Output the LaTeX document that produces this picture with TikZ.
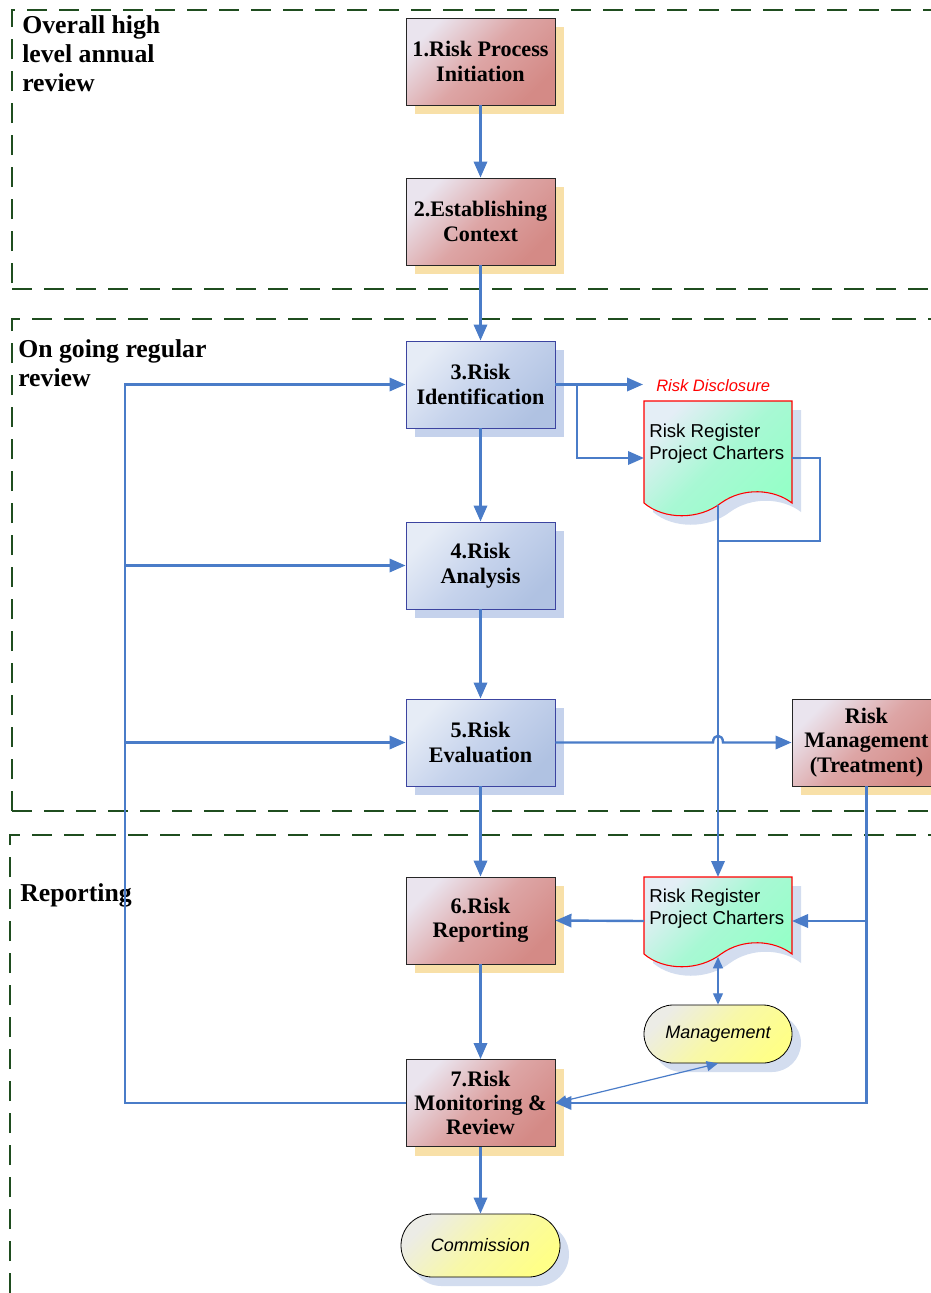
\documentclass[tikz,border=0pt]{standalone}
\usepackage{fontspec}
\newfontfamily\arial{Liberation Sans}
\newfontfamily\boxserif{Liberation Serif}
\usetikzlibrary{arrows.meta,shadows,calc}
\definecolor{lineblue}{HTML}{4A7CC8}
\definecolor{lanegreen}{HTML}{1F4D1F}
\definecolor{redlight}{HTML}{EAE4EE}
\definecolor{redmid}{HTML}{DDA5A5}
\definecolor{reddark}{HTML}{D48A86}
\definecolor{peach}{HTML}{F8E0A8}
\definecolor{bluelight}{HTML}{E6ECF6}
\definecolor{bluemid}{HTML}{C6D3EC}
\definecolor{bluedark}{HTML}{B0C2E2}
\definecolor{blueshadow}{HTML}{C5D2EC}
\definecolor{bluebord}{HTML}{3C44A0}
\definecolor{greenfill}{HTML}{96FFC8}
\definecolor{greenmid}{HTML}{A8F8D4}
\definecolor{greenlight}{HTML}{E4EEF6}
\definecolor{yellowfill}{HTML}{FFFF88}
\definecolor{yellowmid}{HTML}{F8F8A8}
\definecolor{yellowlight}{HTML}{ECECE6}
\definecolor{greyshadow}{HTML}{D3DDEF}
\newcommand\docpath[3]{(#1,#2) -- ({#1+148},#2) -- ({#1+148},#3) .. controls ({#1+130},{#3-14}) and ({#1+99},{#3-16}) .. ({#1+77},#3) .. controls ({#1+55},{#3+17}) and ({#1+20},{#3+17}) .. (#1,#3) -- cycle}
\tikzset{
  boxbase/.style={rectangle, minimum width=111.75pt, minimum height=65.25pt, inner sep=1pt, align=center,
    font=\boxserif\bfseries\fontsize{16.6}{18.3}\selectfont},
  redbox/.style={boxbase, draw=black!85, line width=0.7pt, top color=redlight, bottom color=reddark, middle color=redmid, shading angle=45,
    general shadow={fill=peach, shadow xshift=6.75pt, shadow yshift=-6.75pt}},
  bluebox/.style={boxbase, draw=bluebord, line width=0.7pt, top color=bluelight, bottom color=bluedark, middle color=bluemid, shading angle=45,
    general shadow={fill=blueshadow, shadow xshift=6.75pt, shadow yshift=-6.75pt}},
  term/.style={rectangle, draw=black, line width=0.6pt, top color=yellowlight, bottom color=yellowfill, middle color=yellowmid, shading angle=45,
    general shadow={fill=greyshadow, shadow xshift=6.75pt, shadow yshift=-6.75pt},
    font=\arial\itshape\fontsize{13.5}{16}\selectfont},
  docarea/.style={rectangle, draw=none, inner sep=0pt, outer sep=0pt, minimum width=111pt},
  docfill/.style={draw=red, line width=0.8pt, top color=greenlight, bottom color=greenfill, middle color=greenmid, shading angle=45},
  doctext/.style={anchor=west, align=left, inner sep=0pt, font=\arial\fontsize{14}{16.5}\selectfont},
  lanelabel/.style={anchor=north west, align=left, inner sep=0pt, font=\boxserif\bfseries\fontsize{19.3}{21.8}\selectfont},
  lane/.style={draw=lanegreen, line width=0.8pt, dash pattern=on 15pt off 9pt},
  line/.style={draw=lineblue, line width=1.8pt},
  arr/.style={line, -{Triangle[length=12pt,width=10pt]}},
  thinarr/.style={draw=lineblue, line width=0.9pt, {Triangle[length=8.5pt,width=7.5pt]}-{Triangle[length=8.5pt,width=7.5pt]}},
}
\begin{document}
\begin{tikzpicture}[x=0.75pt,y=-0.75pt]
\useasboundingbox (0,0) rectangle (931,1293);
% swimlanes
\draw[lane] (12,283) -- (12,10) -- (931,10);
\draw[lane] (12,289) -- (931,289);
\draw[lane] (12,811) -- (12,319) -- (931,319);
\draw[lane] (12,811) -- (931,811);
\draw[lane] (10,1293) -- (10,835) -- (931,835);
\node[lanelabel] (l1) at (22,15) {Overall high\\level annual\\review};
\node[lanelabel] (l2) at (18,339) {On going regular\\review};
\node[lanelabel] (l3) at (20,883) {Reporting};
% document shapes
\begin{scope}[shift={(9,9)}]
\fill[greyshadow] \docpath{644}{401}{503};
\fill[greyshadow] \docpath{644}{877}{954};
\end{scope}
\path[docfill] \docpath{644}{401}{503};
\path[docfill] \docpath{644}{877}{954};
\node[docarea, minimum height=85.5pt] (d1) at (718,458) {};
\node[docarea, minimum height=66pt] (d2) at (718,921) {};
\node[doctext] (d1t) at (649,444) {Risk Register\\Project Charters};
\node[doctext] (d2t) at (649,909) {Risk Register\\Project Charters};
\coordinate (d1w) at (718,505);
\coordinate (d2w) at (718,957);
% process boxes
\node[redbox] (b1) at (480.5,61.5) {1.Risk Process\\Initiation};
\node[redbox] (b2) at (480.5,221.5) {2.Establishing\\Context};
\node[bluebox] (b3) at (480.5,384.5) {3.Risk\\Identification};
\node[bluebox] (b4) at (480.5,565.5) {4.Risk\\Analysis};
\node[bluebox] (b5) at (480.5,742.5) {5.Risk\\Evaluation};
\node[redbox] (rm) at (866.5,742.5) {Risk\\Management\\(Treatment)};
\node[redbox] (b6) at (480.5,920.5) {6.Risk\\Reporting};
\node[redbox] (b7) at (480.5,1103) {7.Risk\\Monitoring \&\\Review};
\node[term, minimum width=111pt, minimum height=43.5pt, rounded corners=21.75pt] (mg) at (718,1034) {Management};
\node[term, minimum width=119.25pt, minimum height=47.25pt, rounded corners=23.6pt] (cm) at (480.5,1245.5) {Commission};
\node[anchor=west, inner sep=0pt, text=red, font=\arial\itshape\fontsize{12.4}{14}\selectfont] (rdt) at (656,386) {Risk Disclosure};
% coordinates
\coordinate (rd) at (643,384.5);
\coordinate (br) at (577,384.5);
\coordinate (L1) at (125,1103);
\coordinate (dr) at (820,541);
\coordinate (hopL) at (713,742.5);
\coordinate (hopR) at (723,742.5);
% connectors
\draw[arr] (b1.south) -- (b2.north);
\draw[arr] (b2.south) -- (b3.north);
\draw[arr] (b3.south) -- (b4.north);
\draw[arr] (b4.south) -- (b5.north);
\draw[arr] (b5.south) -- (b6.north);
\draw[arr] (b6.south) -- (b7.north);
\draw[arr] (b7.south) -- (cm.north);
\draw[arr] (b7.west) -- (L1) |- (b3.west);
\draw[arr] (L1 |- b4.west) -- (b4.west);
\draw[arr] (L1 |- b5.west) -- (b5.west);
\draw[arr] (b3.east) -- (rd);
\draw[arr] (br) |- (d1.west);
\draw[line] (d1.east) -| (dr) -- (dr -| d1w);
\draw[arr] (d1w) -- (d2.north);
\draw[arr] (b5.east) -- (hopL) .. controls +(0,-9) and +(0,-9) .. (hopR) -- (rm.west);
\draw[arr] (rm.south) |- (b7.east);
\draw[arr] (rm.south |- d2.east) -- (d2.east);
\draw[arr] (d2.west) -- (b6.east);
\draw[thinarr] (d2w) -- (mg.north);
\draw[thinarr] (mg.south) -- (b7.east);
\end{tikzpicture}
\end{document}
